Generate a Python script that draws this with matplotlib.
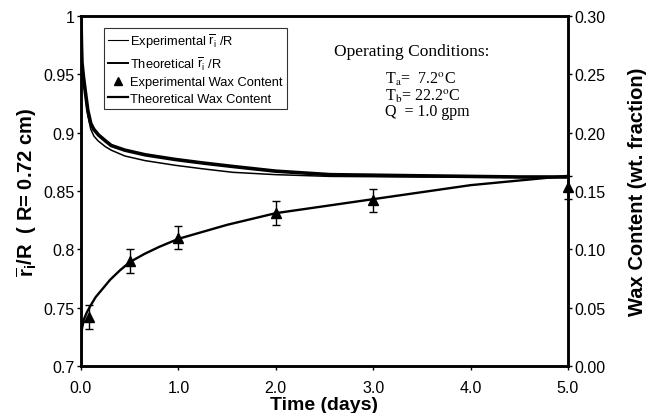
import matplotlib
matplotlib.use("Agg")
import matplotlib.pyplot as plt
from matplotlib.lines import Line2D

plt.rcParams['font.family'] = ['Liberation Sans', 'DejaVu Sans']
plt.rcParams['mathtext.fontset'] = 'custom'
plt.rcParams['mathtext.rm'] = 'Liberation Sans'
plt.rcParams['mathtext.bf'] = 'Liberation Sans:bold'

# Experimental r_i/R
exp_t = [0, 0.005, 0.01, 0.025, 0.04, 0.07, 0.10, 0.13, 0.18, 0.25, 0.31, 0.45, 0.66,
         0.97, 1.25, 1.56, 2.0, 2.56, 3.5, 4.5, 5.0]
exp_r = [1.0, 0.975, 0.960, 0.948, 0.938, 0.919, 0.908, 0.903, 0.898, 0.893, 0.889, 0.885,
         0.881, 0.877, 0.874, 0.871, 0.867, 0.864, 0.863, 0.862, 0.862]

# Theoretical r_i/R
theo_t = [0, 0.005, 0.01, 0.04, 0.07, 0.10, 0.133, 0.175, 0.25, 0.31, 0.45, 0.66, 0.97,
          1.25, 1.56, 2.0, 2.56, 3.5, 5.0]
theo_r = [1.0, 0.972, 0.958, 0.935, 0.915, 0.903, 0.897, 0.893, 0.888, 0.885, 0.880, 0.876,
          0.872, 0.869, 0.866, 0.864, 0.8625, 0.862, 0.862]

# Experimental wax content with error bars
wax_t = [0.08, 0.5, 1.0, 2.0, 3.0, 5.0]
wax_w = [0.042, 0.090, 0.110, 0.131, 0.142, 0.153]
wax_err = [0.01, 0.01, 0.01, 0.01, 0.01, 0.01]

# Theoretical wax content
wax_theo_t = [0, 0.003, 0.01, 0.03, 0.06, 0.10, 0.15, 0.20, 0.30, 0.40, 0.50, 0.65, 0.80,
              1.0, 1.25, 1.5, 1.75, 2.0, 2.5, 3.0, 3.5, 4.0, 4.5, 5.0]
wax_theo_w = [0.0, 0.020, 0.032, 0.040, 0.046, 0.052, 0.059, 0.064, 0.074, 0.082, 0.089,
              0.096, 0.102, 0.109, 0.115, 0.121, 0.126, 0.131, 0.137, 0.143, 0.149, 0.155,
              0.159, 0.163]

x_ticks = [0, 1, 2, 3, 4, 5]
x_labels = ['0.0', '1.0', '2.0', '3.0', '4.0', '5.0']
left_ticks = [0.7, 0.75, 0.8, 0.85, 0.9, 0.95, 1.0]
left_labels = ['0.7', '0.75', '0.8', '0.85', '0.9', '0.95', '1']
right_ticks = [0.0, 0.05, 0.10, 0.15, 0.20, 0.25, 0.30]
right_labels = ['0.00', '0.05', '0.10', '0.15', '0.20', '0.25', '0.30']

fig = plt.figure(figsize=(6.48, 4.14), dpi=100)
ax = fig.add_axes([0.125, 0.1135, 0.7515, 0.8455])
ax2 = ax.twinx()

ax.plot(exp_t, exp_r, color='black', lw=2.6)
ax.plot(theo_t, theo_r, color='black', lw=1.1)
ax2.plot(wax_theo_t, wax_theo_w, color='black', lw=1.7)
ax2.errorbar(wax_t, wax_w, yerr=wax_err, fmt='^', color='black', ms=7,
             ecolor='black', elinewidth=1, capsize=3, capthick=1, clip_on=False)

ax.set_xlim(0, 5)
ax.set_ylim(0.7, 1.0)
ax2.set_ylim(0, 0.30)

ax.set_xticks(x_ticks)
ax.set_xticklabels(x_labels)
ax.set_yticks(left_ticks)
ax.set_yticklabels(left_labels)
ax2.set_yticks(right_ticks)
ax2.set_yticklabels(right_labels)

for a in (ax, ax2):
    a.tick_params(direction='out', length=3, width=1, labelsize=11.5, pad=1.5)
    for s in a.spines.values():
        s.set_linewidth(1.8)
ax.tick_params(axis='x', pad=7)

ax.set_xlabel('Time (days)', fontsize=14, fontweight='bold', labelpad=1)
ax.set_ylabel(r'$\overline{\mathbf{r}}_{\mathbf{i}}$/R  ( R= 0.72 cm)', fontsize=14.5,
              fontweight='bold', labelpad=3)
ax2.set_ylabel('Wax Content (wt. fraction)', fontsize=14.5, fontweight='bold', labelpad=16)

handles = [
    Line2D([], [], color='black', lw=0.8),
    Line2D([], [], color='black', lw=1.4),
    Line2D([], [], color='black', marker='^', ls='none', ms=6),
    Line2D([], [], color='black', lw=1.6),
]
labels = [
    r'Experimental $\overline{\mathrm{r}}_{\mathrm{i}}$ /R',
    r'Theoretical $\overline{\mathrm{r}}_{\mathrm{i}}$ /R',
    'Experimental Wax Content',
    'Theoretical Wax Content',
]
leg = ax2.legend(handles, labels, loc='upper left', bbox_to_anchor=(0.047, 0.966),
                 fontsize=9.3, frameon=True, fancybox=False, edgecolor='black',
                 handlelength=1.6, handletextpad=0.15, borderpad=0.3,
                 labelspacing=0.35, borderaxespad=0)
leg.get_frame().set_linewidth(0.8)

serif = ['Liberation Serif', 'DejaVu Serif']
ax2.text(0.68, 0.9, 'Operating Conditions:', transform=ax.transAxes,
         family=serif, fontsize=12.5, ha='center', va='center')
cond = (r'T$_{\mathrm{a}}$=  7.2$^{\mathrm{o}}$C' + '\n'
        r'T$_{\mathrm{b}}$= 22.2$^{\mathrm{o}}$C' + '\n'
        r'Q  = 1.0 gpm')
ax2.text(0.624, 0.845, cond, transform=ax.transAxes, family=serif, fontsize=11.5,
         math_fontfamily='stix', ha='left', va='top', linespacing=0.95)

fig.savefig('out.png', dpi=100)
